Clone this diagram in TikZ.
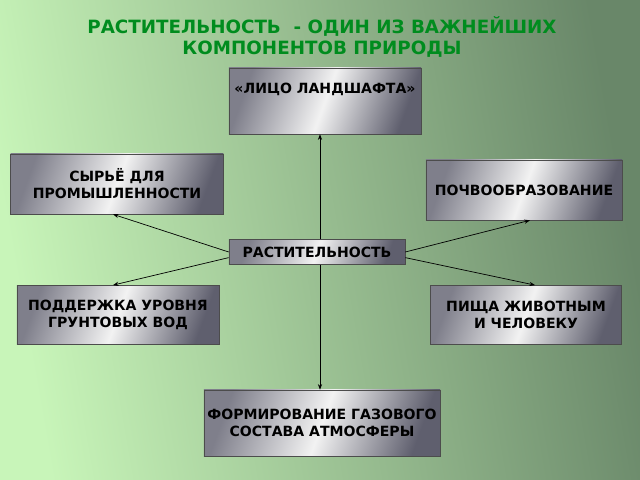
\documentclass[tikz,border=0pt]{standalone}
\usepackage{fontspec}
\setmainfont{DejaVu Sans}
\usetikzlibrary{arrows.meta}
\definecolor{bgleft}{RGB}{200,245,185}
\definecolor{bgright}{RGB}{105,135,105}
\definecolor{titlegreen}{RGB}{0,140,30}
\definecolor{boxedge}{RGB}{95,95,110}
\begin{document}
\begin{tikzpicture}[x=0.025cm,y=-0.025cm]
    \tikzstyle{box}=[draw=gray!60!black, left color=boxedge!80, right color=boxedge, middle color=gray!10, shading angle=70, font=\bfseries\fontsize{10}{12}\selectfont, align=center, inner sep=0pt, text=black]
    \tikzstyle{edge}=[black, line width=0.5pt, -{Stealth[length=4pt,width=3pt]}]

    \shade[left color=bgleft, right color=bgright, shading angle=100] (0,0) rectangle (640,480);
    \useasboundingbox (0,0) rectangle (640,480);

    \node[text=titlegreen, font=\bfseries\fontsize{13}{15}\selectfont, align=center] (title) at (322,37) {РАСТИТЕЛЬНОСТЬ \ - ОДИН ИЗ ВАЖНЕЙШИХ\\КОМПОНЕНТОВ ПРИРОДЫ};

    \node[box, minimum width=4.8cm, minimum height=1.65cm] (face) at (325,101) {«ЛИЦО ЛАНДШАФТА»\\[6pt]};
    \node[box, minimum width=5.32cm, minimum height=1.5cm] (raw) at (117,184) {СЫРЬЁ ДЛЯ\\ПРОМЫШЛЕННОСТИ};
    \node[box, minimum width=4.9cm, minimum height=1.5cm] (soil) at (524,190) {ПОЧВООБРАЗОВАНИЕ};
    \node[box, minimum width=4.4cm, minimum height=0.62cm] (veg) at (317,252) {РАСТИТЕЛЬНОСТЬ};
    \node[box, minimum width=5.05cm, minimum height=1.48cm] (water) at (118,315) {ПОДДЕРЖКА УРОВНЯ\\ГРУНТОВЫХ ВОД};
    \node[box, minimum width=4.78cm, minimum height=1.48cm] (food) at (526,315) {ПИЩА ЖИВОТНЫМ\\И ЧЕЛОВЕКУ};
    \node[box, minimum width=5.9cm, minimum height=1.65cm] (gas) at (322,423) {ФОРМИРОВАНИЕ ГАЗОВОГО\\СОСТАВА АТМОСФЕРЫ};

    \draw[edge] (veg.north -| 320,0) -- (face.south -| 320,0);
    \draw[edge] (veg.south -| 320,0) -- (gas.north -| 320,0);
    \draw[edge] (veg.west) -- (raw.south -| 113,0);
    \draw[edge] (veg.east) -- (soil.south -| 530,0);
    \draw[edge] ([yshift=-4]veg.west) -- (water.north -| 113,0);
    \draw[edge] ([yshift=-4]veg.east) -- (food.north -| 535,0);
\end{tikzpicture}
\end{document}
